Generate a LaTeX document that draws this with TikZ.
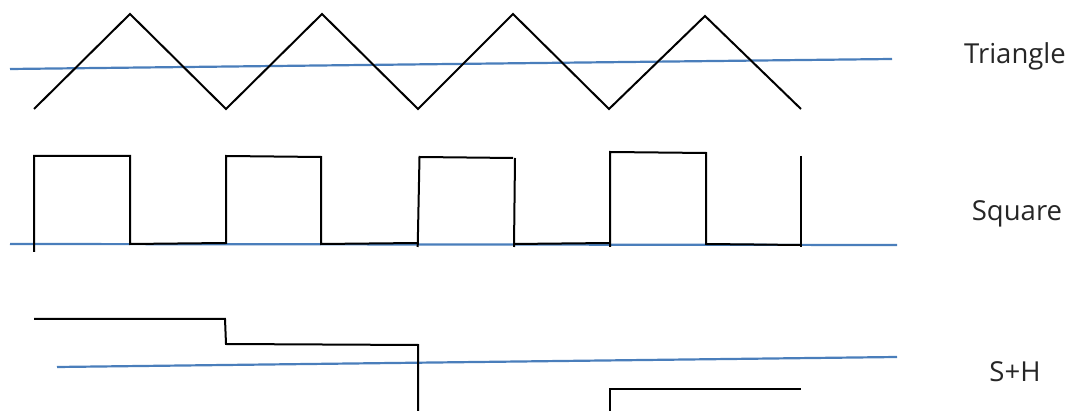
\documentclass[tikz,border=0pt]{standalone}
\usepackage{fontspec}
\setmainfont{Open Sans}
\definecolor{refblue}{HTML}{4A7EBB}
\begin{document}
\begin{tikzpicture}[x=1pt,y=-1pt,
  wave/.style={black,line width=2pt,line join=miter},
  ref/.style={refblue,line width=2.2pt},
  lbl/.style={anchor=base,font=\fontsize{27.5}{32}\selectfont,text=black!85,inner sep=0pt}]
\useasboundingbox (0,0) rectangle (1072,411);
% Triangle
\draw[ref] (10,69) -- (892,59);
\draw[wave] (34,109) -- (130,14) -- (226,109) -- (322,14) -- (418,109) -- (513,14) -- (609,109) -- (705,16) -- (801,109);
% Square
\draw[ref] (10,244) -- (897,245);
\draw[wave] (34,252) -- (34,156) -- (130,156) -- (130,244) -- (226,243) -- (226,156) -- (321,157) -- (321,244) -- (418,243);
\draw[wave] (417.7,247) -- (419.5,157) -- (513,158);
\draw[wave] (515,158) -- (514,247);
\draw[wave] (514,244) -- (610,243);
\draw[wave] (610,247) -- (610,152) -- (706,153) -- (706,244) -- (801,245);
\draw[wave] (801,156) -- (801,247);
% S+H
\draw[ref] (57,367) -- (897,357);
\draw[wave] (34,319) -- (225,319) -- (226,344) -- (418,345) -- (418,411);
\draw[wave] (610,411) -- (610,389) -- (801,389);
% labels
\node[lbl] (tri) at (1015,64) {Triangle};
\node[lbl] (sq) at (1017,221) {Square};
\node[lbl] (sh) at (1015,382) {S+H};
\end{tikzpicture}
\end{document}
